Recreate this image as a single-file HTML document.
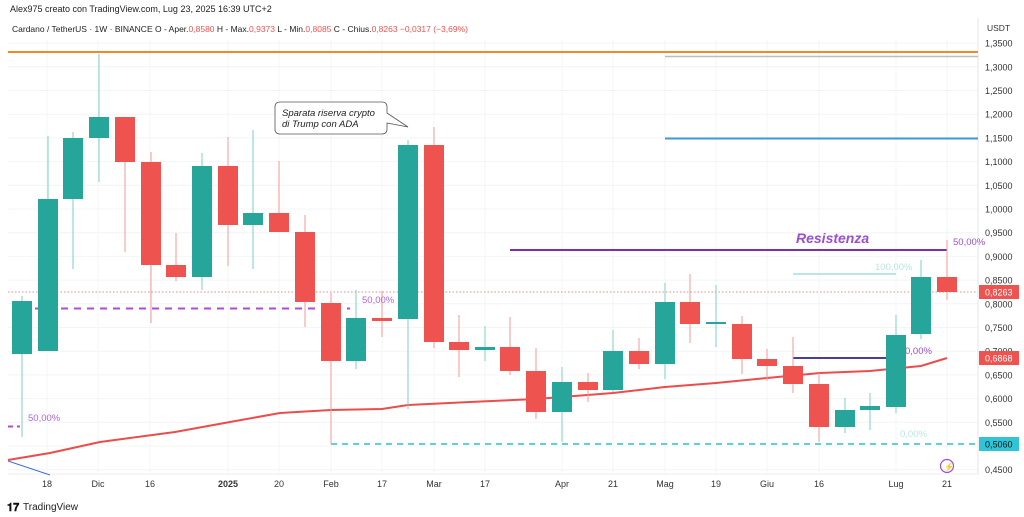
<!DOCTYPE html>
<html><head><meta charset="utf-8"><style>
html,body{margin:0;padding:0;background:#fff;width:1024px;height:517px;overflow:hidden}
svg{display:block;font-family:"Liberation Sans",sans-serif}
</style></head><body>
<svg id="s" width="1024" height="517" xmlns="http://www.w3.org/2000/svg">
<rect width="1024" height="517" fill="#fff"/>
<g id="grid"></g>
<line x1="978" y1="18" x2="978" y2="474" stroke="#e6e6e6"/>
<line x1="8" y1="474" x2="978" y2="474" stroke="#eeeeee"/>
<!-- horizontal lines -->
<line x1="8" y1="52" x2="978" y2="52" stroke="#f08a24" stroke-width="2"/>
<line x1="665" y1="56.5" x2="978" y2="56.5" stroke="#bdbdbd" stroke-width="1.5"/>
<line x1="665" y1="138.5" x2="978" y2="138.5" stroke="#3f97d8" stroke-width="2"/>
<line x1="510" y1="250" x2="947" y2="250" stroke="#7b2fa8" stroke-width="2"/>
<line x1="793" y1="274" x2="896" y2="274" stroke="#9fe0dc" stroke-width="1.5"/>
<line x1="8" y1="292" x2="978" y2="292" stroke="#f08a8a" stroke-dasharray="1.5 2" stroke-width="1"/>
<line x1="35" y1="308.5" x2="350" y2="308.5" stroke="#b04ad6" stroke-dasharray="7 6" stroke-width="2"/>
<line x1="793" y1="358" x2="896" y2="358" stroke="#4b3ca0" stroke-width="2"/>
<line x1="8" y1="426.5" x2="20" y2="426.5" stroke="#b04ad6" stroke-dasharray="5 4" stroke-width="2"/>
<line x1="331" y1="444" x2="978" y2="444" stroke="#2fbfcf" stroke-dasharray="6 5" stroke-width="1.5"/>
<line x1="331" y1="395" x2="331" y2="444" stroke="#f05a5a" stroke-width="1"/>
<polyline fill="none" stroke="#3b6fe0" stroke-width="1" points="8,461 50,475"/>
<polyline fill="none" stroke="#ec4c4c" stroke-width="2" points="8,460 50,453 100,442 175,432 230,422 280,413 331,410 382,409 408,405 470,402 536,399 562,397 613,393 665,387 716,383 767,378 820,373 870,371 921,366 947,358"/>
<g id="c"></g>
<!-- labels -->
<text x="28" y="421" font-size="9.5" fill="#b066d8">50,00%</text>
<text x="362" y="303" font-size="9.5" fill="#b066d8">50,00%</text>
<text x="953" y="245" font-size="9.5" fill="#9a4fd0">50,00%</text>
<text x="875" y="270" font-size="9.5" fill="#b8e6e4">100,00%</text>
<text x="905" y="354" font-size="9.5" fill="#9a4fd0">0,00%</text>
<text x="900" y="437" font-size="9.5" fill="#b8e6e4">0,00%</text>
<text x="796" y="243" font-size="14" font-weight="bold" font-style="italic" fill="#9a4fd0">Resistenza</text>
<path d="M280,102 H382 Q387,102 387,107 V113 L408,127 L387,123 V129 Q387,134 382,134 H280 Q275,134 275,129 V107 Q275,102 280,102 Z" fill="#fff" stroke="#555" stroke-width="0.8"/>
<text x="282" y="116" font-size="9.5" font-style="italic" fill="#222">Sparata riserva crypto</text>
<text x="282" y="127" font-size="9.5" font-style="italic" fill="#222">di Trump con ADA</text>
<text x="10" y="12" font-size="9" fill="#222">Alex975 creato con TradingView.com, Lug 23, 2025 16:39 UTC+2</text>
<text x="12" y="32" font-size="8.5" fill="#222">Cardano / TetherUS · 1W · BINANCE  O - Aper.<tspan fill="#ef5350">0,8580</tspan>  H - Max.<tspan fill="#ef5350">0,9373</tspan>  L - Min.<tspan fill="#ef5350">0,8085</tspan>  C - Chius.<tspan fill="#ef5350">0,8263  −0,0317 (−3,69%)</tspan></text>
<text x="987" y="31" font-size="8.5" fill="#333">USDT</text>
<g id="ax" font-size="9" fill="#333"></g>
<rect x="979" y="285" width="40" height="14" fill="#ef5350"/><text x="985" y="295.5" font-size="9" fill="#fff">0,8263</text>
<rect x="979" y="351" width="40" height="14" fill="#ef5350"/><text x="985" y="361.5" font-size="9" fill="#fff">0,6868</text>
<rect x="979" y="437" width="40" height="14" fill="#2fc4d6"/><text x="985" y="447.5" font-size="9" fill="#111">0,5060</text>
<circle cx="947" cy="466" r="6.5" fill="none" stroke="#9a4fd0" stroke-width="1.2"/>
<text x="944" y="469.5" font-size="8" fill="#9a4fd0">⚡</text>
<g font-size="9" fill="#333" text-anchor="middle">
<text x="47" y="487">18</text><text x="98" y="487">Dic</text><text x="150" y="487">16</text>
<text x="228" y="487" font-weight="bold">2025</text><text x="279" y="487">20</text><text x="331" y="487">Feb</text>
<text x="382" y="487">17</text><text x="434" y="487">Mar</text><text x="485" y="487">17</text>
<text x="562" y="487">Apr</text><text x="613" y="487">21</text><text x="665" y="487">Mag</text>
<text x="716" y="487">19</text><text x="767" y="487">Giu</text><text x="819" y="487">16</text>
<text x="896" y="487">Lug</text><text x="947" y="487">21</text>
</g>
<text x="7" y="511" font-size="11" font-weight="bold" fill="#111">𝟏𝟕</text>
<text x="23" y="510" font-size="10" fill="#222">TradingView</text>
</svg>
<script>
var NS="http://www.w3.org/2000/svg";
function el(p,t,a){var e=document.createElementNS(NS,t);for(var k in a)e.setAttribute(k,a[k]);p.appendChild(e);return e;}
var g=document.getElementById('grid'),ax=document.getElementById('ax');
function Y(p){return 232.7-(p-0.95)*474;}
for(var p=0.45;p<=1.351;p+=0.05){var y=Y(p);
 el(g,'line',{x1:8,x2:978,y1:y,y2:y,stroke:'#f3f4f6'});
 var t=el(ax,'text',{x:985,y:y+3.5});t.textContent=p.toFixed(4).replace('.',',');}
[47,98,150,228,279,331,382,434,485,562,613,665,716,767,819,896,947].forEach(function(x){el(g,'line',{x1:x,x2:x,y1:40,y2:474,stroke:'#f3f4f6'});});
var C=[[22,301,354,296,437,1],[48,199,351,136,351,1],[73,138,199,132,269,1],[99,117,138,54,182,1],
[125,117,162,117,252,0],[151,162,265,152,323,0],[176,265,277,233,281,0],[202,166,277,153,290,1],
[228,166,225,137,266,0],[253,213,225,130,269,1],[279,213,232,161,232,0],[305,232,302,215,327,0],
[331,303,361,293,444,0],[356,318,361,290,369,1],[382,318,321,291,337,0],[408,145,319,140,409,1],
[434,145,342,127,348,0],[459,342,350,315,377,0],[485,347,350,326,361,1],[510,347,371,317,375,0],
[536,371,412,348,419,0],[562,382,412,367,442,1],[588,382,390,373,402,0],[613,351,390,330,392,1],
[639,351,364,338,369,0],[665,302,364,283,379,1],[690,302,324,274,343,0],[716,322,324,285,347,1],
[742,324,359,316,374,0],[767,359,366,349,381,0],[793,366,384,337,393,0],[819,384,427,373,442,0],
[845,410,427,398,433,1],[870,406,410,393,430,1],[896,335,407,315,413,1],[921,277,334,260,339,1],[947,277,292,240,300,0]];
var c=document.getElementById('c');
C.forEach(function(d){var col=d[5]?'#26a69a':'#ef5350';
 el(c,'line',{x1:d[0],x2:d[0],y1:d[3],y2:d[4],stroke:d[5]?'#7ccfc6':'#f39a9a','stroke-width':1});
 el(c,'rect',{x:d[0]-10,y:d[1],width:20,height:Math.max(2,d[2]-d[1]),fill:col});});
</script>
</body></html>
